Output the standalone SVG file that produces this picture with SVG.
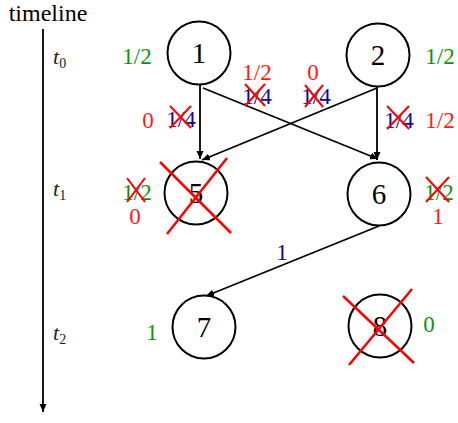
<svg xmlns="http://www.w3.org/2000/svg" width="458" height="423" viewBox="0 0 458 423" font-family="'Liberation Serif', 'Times New Roman', 'DejaVu Serif', serif">
<style>
text{font-family:'Liberation Serif','Times New Roman','DejaVu Serif',serif}
.node circle{fill:#fff;stroke:#000;stroke-width:2}
.node text{font-size:29px;text-anchor:middle}
.lbl{font-size:23px;text-anchor:middle}
.g{fill:#109010}
.r{fill:#ff1a1a}
.b{fill:#0a0a9a}
.tl{font-size:22px;font-style:italic;fill:#222}
.sub{font-size:14px;font-style:normal}
.edge{stroke:#000;stroke-width:1.8;fill:none}
.x{stroke:#ff0000;stroke-width:2.5;fill:none}
.xs{stroke:#ff0000;stroke-width:2;fill:none}
</style>
<defs>
<marker id="ah" markerUnits="userSpaceOnUse" markerWidth="10" markerHeight="8" refX="8" refY="3.5" orient="auto">
<path d="M0,0 L8,3.5 L0,7 z" fill="#000"/>
</marker>
</defs>

<text x="48" y="21" style="font-size:24px;text-anchor:middle">timeline</text>
<g id="timeline">
<line x1="43" y1="29" x2="43" y2="412" class="edge" marker-end="url(#ah)"/>
</g>
<text class="tl" x="53" y="64">t<tspan class="sub" dy="4">0</tspan></text>
<text class="tl" x="53" y="196">t<tspan class="sub" dy="4">1</tspan></text>
<text class="tl" x="53" y="340">t<tspan class="sub" dy="4">2</tspan></text>

<g id="connectors">
<line x1="200" y1="85" x2="200" y2="159" class="edge" marker-end="url(#ah)"/>
<line x1="203" y1="88" x2="378" y2="159" class="edge" marker-end="url(#ah)"/>
<line x1="377" y1="88" x2="202" y2="160" class="edge" marker-end="url(#ah)"/>
<line x1="377" y1="87" x2="377" y2="160" class="edge" marker-end="url(#ah)"/>
<line x1="379" y1="226" x2="206" y2="296" class="edge" marker-end="url(#ah)"/>
</g>

<g id="node1" class="node"><circle cx="199" cy="53" r="31.5"/><text x="199" y="63">1</text></g>
<g id="node2" class="node"><circle cx="378" cy="55" r="31.5"/><text x="378" y="65">2</text></g>
<g id="node5" class="node"><circle cx="196" cy="193" r="31.5"/><text x="196" y="203">5</text>
<line x1="160" y1="162" x2="231" y2="233" class="x"/><line x1="227" y1="158" x2="167" y2="234" class="x"/></g>
<g id="node6" class="node"><circle cx="379" cy="194" r="31.5"/><text x="379" y="204">6</text></g>
<g id="node7" class="node"><circle cx="204" cy="327" r="31.5"/><text x="204" y="337">7</text></g>
<g id="node8" class="node"><circle cx="380" cy="326" r="31.5"/><text x="380" y="336">8</text>
<line x1="343" y1="296" x2="414" y2="363" class="x"/><line x1="412" y1="289" x2="349" y2="365" class="x"/></g>

<g id="labels">
<text class="lbl g" x="137" y="64">1/2</text>
<text class="lbl g" x="440" y="64">1/2</text>
<text class="lbl r" x="257" y="80">1/2</text>
<text class="lbl r" x="313" y="80">0</text>
<text class="lbl b" x="257" y="104">1/4</text>
<line x1="245" y1="84" x2="265" y2="106" class="xs"/><line x1="265" y1="84" x2="245" y2="106" class="xs"/>
<text class="lbl b" x="316" y="104">1/4</text>
<line x1="305" y1="85" x2="323" y2="107" class="xs"/><line x1="323" y1="85" x2="305" y2="107" class="xs"/>
<text class="lbl r" x="148" y="128">0</text>
<text class="lbl b" x="181" y="127">1/4</text>
<line x1="170" y1="106" x2="191" y2="128" class="xs"/><line x1="191" y1="106" x2="170" y2="128" class="xs"/>
<text class="lbl b" x="399" y="128">1/4</text>
<line x1="387" y1="106" x2="409" y2="129" class="xs"/><line x1="409" y1="106" x2="387" y2="129" class="xs"/>
<text class="lbl r" x="440" y="128">1/2</text>
<text class="lbl g" x="137" y="200">1/2</text>
<line x1="127" y1="178" x2="145" y2="202" class="xs"/><line x1="145" y1="178" x2="127" y2="202" class="xs"/>
<text class="lbl r" x="135" y="224">0</text>
<text class="lbl g" x="439" y="200">1/2</text>
<line x1="426" y1="177" x2="449" y2="202" class="xs"/><line x1="449" y1="177" x2="426" y2="202" class="xs"/>
<text class="lbl r" x="438" y="224">1</text>
<text class="lbl b" x="282" y="260">1</text>
<text class="lbl g" x="152" y="340">1</text>
<text class="lbl g" x="429" y="332">0</text>
</g>
</svg>
